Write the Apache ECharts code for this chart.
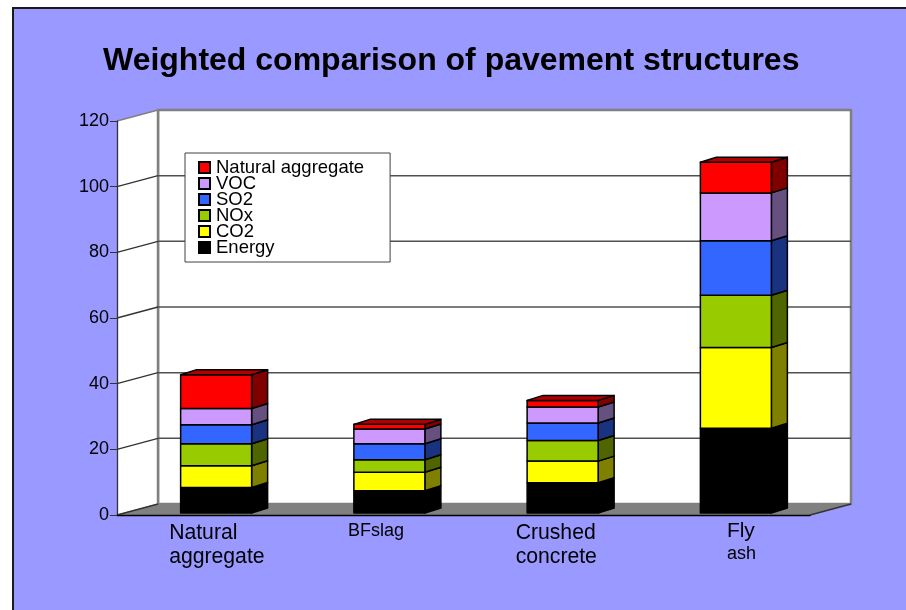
<!DOCTYPE html>
<html>
<head>
<meta charset="utf-8">
<style>
  html, body { margin: 0; padding: 0; background: #fff; }
  #chart { width: 906px; height: 610px; }
</style>
<script src="https://cdn.jsdelivr.net/npm/echarts@6/dist/echarts.min.js"></script>
</head>
<body>
<div id="chart"></div>
<script>
let categories = ['Natural aggregate', 'BFslag', 'Crushed concrete', 'Fly ash'];
let tickValues = [0, 20, 40, 60, 80, 100, 120];

// bottom to top, same order as the stack
let energy = [7.8, 6.8, 9.2, 25.8];
let co2 = [6.6, 5.6, 6.6, 24.6];
let nox = [6.7, 3.8, 6.3, 15.9];
let so2 = [5.8, 4.9, 5.3, 16.6];
let voc = [4.9, 4.5, 4.9, 14.6];
let naturalAggregate = [10.3, 1.4, 2.0, 9.3];

let stackNames = ['Energy', 'CO2', 'NOx', 'SO2', 'VOC', 'Natural aggregate'];
let stackValues = [energy, co2, nox, so2, voc, naturalAggregate];
let frontColors = ['#000000', '#FFFF00', '#99CC00', '#3366FF', '#CC99FF', '#FF0000'];
let sideColors = ['#000000', '#808000', '#4F6600', '#1A3380', '#665080', '#800000'];
let topColor = '#B00000';

const WALL_DX = 41, WALL_DY = -11;   // depth of the floor
const BAR_DY = -2;                   // bar front sits this far behind the axis plane
const SIDE_DX = 16, SIDE_DY = -5;    // depth of one bar
const BAR_LEFT = -23, BAR_WIDTH = 71;

function poly(points, fill, stroke, lineWidth) {
  return {
    type: 'polygon',
    shape: { points: points },
    style: { fill: fill, stroke: stroke, lineWidth: lineWidth === undefined ? 1 : lineWidth, lineJoin: 'round' }
  };
}

function line(a, b, stroke, lineWidth) {
  return {
    type: 'line',
    shape: { x1: a[0], y1: a[1], x2: b[0], y2: b[1] },
    style: { stroke: stroke, lineWidth: lineWidth }
  };
}

// back wall, left wall, floor, gridlines
function renderWalls(params, api) {
  let rect = params.coordSys;
  let x0 = rect.x, x1 = rect.x + rect.width;
  let y0 = api.coord([0, 0])[1], yTop = api.coord([0, 120])[1];
  let children = [
    poly([[x0 + WALL_DX, yTop + WALL_DY], [x1 + WALL_DX, yTop + WALL_DY], [x1 + WALL_DX, y0 + WALL_DY], [x0 + WALL_DX, y0 + WALL_DY]], '#fff', '#808080', 2.5),
    poly([[x0, yTop], [x0 + WALL_DX, yTop + WALL_DY], [x0 + WALL_DX, y0 + WALL_DY], [x0, y0]], '#fff', '#fff', 0),
    poly([[x0, y0], [x0 + WALL_DX, y0 + WALL_DY], [x1 + WALL_DX, y0 + WALL_DY], [x1, y0]], '#808080', '#808080', 1),
    line([x0 + WALL_DX, yTop + WALL_DY], [x0 + WALL_DX, y0 + WALL_DY], '#808080', 2.5)
  ];
  tickValues.forEach(function (v) {
    let y = api.coord([0, v])[1];
    if (v > 0 && v < 120) {
      children.push(line([x0 + WALL_DX, y + WALL_DY], [x1 + WALL_DX, y + WALL_DY], '#505050', 1.5));
    }
    children.push(line([x0, y], [x0 + WALL_DX, y + WALL_DY], v === 120 ? '#808080' : '#333', 1.3));
  });
  children.push(line([x1, y0], [x1 + WALL_DX, y0 + WALL_DY], '#333', 1.3));
  return { type: 'group', children: children };
}

function renderStack(seriesIndex) {
  return function (params, api) {
    let cat = api.value(0);
    let base = api.value(1), top = api.value(2);
    let p0 = api.coord([cat, base]), p1 = api.coord([cat, top]);
    let xl = p0[0] + BAR_LEFT, xr = xl + BAR_WIDTH;
    let yb = p0[1] + BAR_DY, yt = p1[1] + BAR_DY;
    let children = [
      poly([[xr, yb], [xr + SIDE_DX, yb + SIDE_DY], [xr + SIDE_DX, yt + SIDE_DY], [xr, yt]], sideColors[seriesIndex], '#000', 1.5),
      poly([[xl, yb], [xr, yb], [xr, yt], [xl, yt]], frontColors[seriesIndex], '#000', 1.5)
    ];
    if (seriesIndex === stackValues.length - 1) {
      children.push(poly([[xl, yt], [xr, yt], [xr + SIDE_DX, yt + SIDE_DY], [xl + SIDE_DX, yt + SIDE_DY]], topColor, '#000', 1.5));
    }
    return { type: 'group', children: children };
  };
}

// category labels sit off the band centres and mix sizes, so they are placed by hand
let labelLines = [
  [['Natural', 21.2, 533], ['aggregate', 21.2, 557], -34.5],
  [['BFslag', 18, 531], -29],
  [['Crushed', 21.2, 533], ['concrete', 21.2, 557], -34.5],
  [['Fly', 21, 531], ['ash', 18, 554], 3.5]
];

function renderCategoryLabel(params, api) {
  let cat = api.value(0);
  let x = api.coord([cat, 0])[0];
  let entry = labelLines[cat];
  let dx = entry[entry.length - 1];
  return {
    type: 'group',
    children: entry.slice(0, -1).map(function (l) {
      return {
        type: 'text',
        style: {
          x: x + dx, y: l[2], text: l[0], fill: '#000',
          font: l[1] + 'px "Liberation Sans", Arial, sans-serif',
          textAlign: 'left', textVerticalAlign: 'middle'
        }
      };
    })
  };
}

let series = [
  {
    type: 'custom',
    name: 'walls',
    silent: true,
    z: 1,
    data: [[0, 0]],
    renderItem: renderWalls,
    encode: { x: 0, y: 1 }
  }
];

stackValues.forEach(function (values, i) {
  let data = values.map(function (v, c) {
    let base = 0;
    for (let k = 0; k < i; k++) base += stackValues[k][c];
    return [c, base, base + v];
  });
  series.push({
    type: 'custom',
    name: stackNames[i],
    z: 3 + i,
    itemStyle: { color: frontColors[i], borderColor: '#000', borderWidth: 1.5 },
    data: data,
    encode: { x: 0, y: [1, 2] },
    renderItem: renderStack(i)
  });
});

series.push({
  type: 'custom',
  name: 'labels',
  silent: true,
  z: 12,
  data: categories.map(function (c, i) { return [i, 0]; }),
  encode: { x: 0, y: 1 },
  renderItem: renderCategoryLabel
});

let option = {
  animation: false,
  backgroundColor: '#fff',
  textStyle: { fontFamily: '"Liberation Sans", Arial, sans-serif' },
  graphic: [
    {
      type: 'rect',
      z: -10,
      shape: { x: 13, y: 8, width: 920, height: 640 },
      style: { fill: '#9999FF', stroke: '#1a1a1a', lineWidth: 2 }
    }
  ],
  title: {
    text: 'Weighted comparison of pavement structures',
    left: 103,
    top: 45,
    padding: 0,
    textStyle: { color: '#000', fontSize: 32, fontWeight: 'bold', fontFamily: '"Liberation Sans", Arial, sans-serif' }
  },
  legend: {
    data: stackNames.slice().reverse(),
    orient: 'vertical',
    left: 185,
    top: 153,
    padding: [5, 26, 5, 13],
    backgroundColor: '#fff',
    borderColor: '#404040',
    borderWidth: 1,
    itemWidth: 11,
    itemHeight: 11,
    itemGap: -3,
    icon: 'rect',
    selectedMode: false,
    textStyle: { color: '#000', fontSize: 18.5, padding: [0, 0, 0, 1] }
  },
  grid: { left: 117, right: 96, top: 121, bottom: 95, containLabel: false },
  xAxis: {
    type: 'category',
    data: categories,
    z: 2,
    axisLine: { show: true, lineStyle: { color: '#000', width: 1.3 } },
    axisTick: { show: false },
    axisLabel: { show: false },
    splitLine: { show: false }
  },
  yAxis: {
    type: 'value',
    min: 0,
    max: 120,
    interval: 20,
    z: 2,
    axisLine: { show: true, lineStyle: { color: '#333', width: 1.3 } },
    axisTick: { show: true, length: 7, lineStyle: { color: '#333' } },
    axisLabel: { color: '#000', fontSize: 18, margin: 8 },
    splitLine: { show: false }
  },
  series: series
};

let chart = echarts.init(document.getElementById('chart'));
chart.setOption(option);
</script>
</body>
</html>
